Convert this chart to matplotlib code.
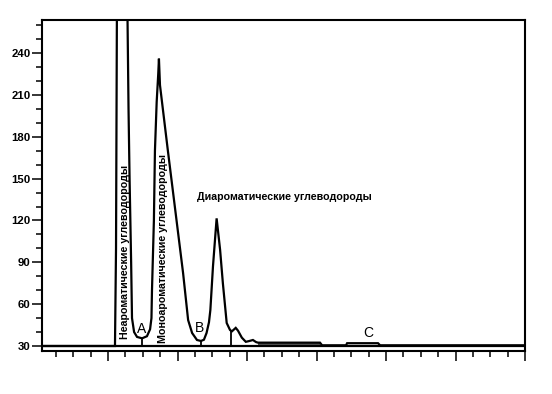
import numpy as np
import matplotlib
matplotlib.use('Agg')
import matplotlib.pyplot as plt
from matplotlib.ticker import MultipleLocator, NullFormatter

plt.rcParams['font.family'] = ['Liberation Sans', 'DejaVu Sans']

# retention time (arbitrary units, 4 per major tick) and detector signal
t = [0.20, 4.40, 4.46, 4.52, 5.09, 5.18, 5.24, 5.33, 5.38, 5.50, 5.67,
     5.96, 6.24, 6.42, 6.50, 6.53, 6.64, 6.70, 6.80, 6.89, 6.93, 6.99,
     7.44, 8.32, 8.61, 8.84, 9.12, 9.35, 9.52, 9.67, 9.81, 9.89,
     10.04, 10.25, 10.45, 10.61, 10.83, 11.02, 11.13, 11.35, 11.48,
     11.70, 11.93, 12.11, 12.34, 12.52, 12.63, 16.20, 16.32, 17.70,
     17.76, 19.54, 19.66, 28.0]
signal = [30, 30, 100, 300, 300, 200, 150, 90, 50, 40, 36.5,
          35.5, 37, 42, 50, 70, 120, 170, 205, 225, 236, 217,
          170.5, 82.3, 48.6, 39.3, 34.3, 33.6, 34.5, 39.3, 47, 55.8,
          87, 121.5, 99, 75, 46.5, 41.5, 40.5, 43, 41,
          36, 33, 33.5, 34.3, 32.8, 32.4, 32.4, 30.5, 30.5,
          32, 32, 30.5, 30.5]

# vertical drop lines between fractions
drop_t = [5.96, 9.35, 11.08]
drop_top = [35.5, 33.6, 41]

labels_v = ['Неароматические углеводороды', 'Моноароматические углеводороды']
label_h = 'Диароматические углеводороды'
marks = ['A', 'B', 'C']

fig = plt.figure(figsize=(5.52, 3.94), dpi=100)
ax = fig.add_axes([0.0761, 0.1091, 0.8750, 0.8401])

ax.plot(t, signal, color='black', lw=1.6, solid_joinstyle='miter', zorder=3)
ax.axhline(30, color='black', lw=1.6, zorder=2)
ax.vlines(drop_t, 30, drop_top, color='black', lw=1.3)
sel = (np.array(t) >= 12.6) & (np.array(t) <= 16.25)
ax.fill_between(np.array(t)[sel], 30, np.array(signal)[sel], color='#555555', lw=0)

ax.set_xlim(0.2, 28.0)
ax.set_ylim(26.4, 263.7)

ax.set_yticks(np.arange(30, 241, 30))
ax.yaxis.set_minor_locator(MultipleLocator(10))
ax.xaxis.set_major_locator(MultipleLocator(4))
ax.xaxis.set_minor_locator(MultipleLocator(1))
ax.xaxis.set_major_formatter(NullFormatter())

ax.tick_params(axis='both', which='major', direction='out', length=7, width=1.1,
               labelsize=8.2, pad=1.2)
ax.tick_params(axis='both', which='minor', direction='out', length=4.2, width=1.1)
for lab in ax.get_yticklabels():
    lab.set_fontweight('bold')
for s in ax.spines.values():
    s.set_linewidth(1.5)

ax.text(5.0, 35, labels_v[0], rotation=90, ha='center', va='bottom',
        fontsize=7.7, fontweight='bold')
ax.text(7.17, 32.5, labels_v[1], rotation=90, ha='center', va='bottom',
        fontsize=7.7, fontweight='bold')
ax.text(9.12, 137, label_h, ha='left', va='center', fontsize=7.7, fontweight='bold')
ax.text(5.94, 42.5, marks[0], ha='center', va='center', fontsize=10)
ax.text(9.24, 43, marks[1], ha='center', va='center', fontsize=10)
ax.text(18.95, 39.5, marks[2], ha='center', va='center', fontsize=10)

fig.savefig('out.png', dpi=100)
